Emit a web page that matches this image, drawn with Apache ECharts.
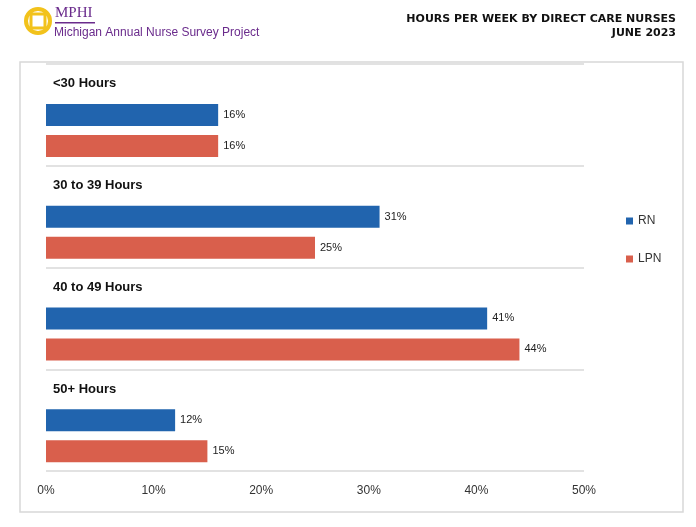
<!DOCTYPE html>
<html><head><meta charset="utf-8">
<script src="https://cdn.jsdelivr.net/npm/echarts@6/dist/echarts.min.js"></script>
<style>body{margin:0;background:#fff}#c{width:696px;height:527px}</style>
</head><body><div id="c"></div>
<script>
var groups = ['<30 Hours', '30 to 39 Hours', '40 to 49 Hours', '50+ Hours'];
var rnValues = [16, 31, 41, 12];
var lpnValues = [16, 25, 44, 15];
var xTicks = [0, 10, 20, 30, 40, 50];

var chart = echarts.init(document.getElementById('c'));
var lbl = {show: true, position: 'right', fontSize: 11, color: '#222', fontFamily: 'Arial', formatter: '{c}%'};
chart.setOption({
    animation: false,
    graphic: [
        {type: 'rect', shape: {x: 20, y: 62, width: 663, height: 450}, style: {fill: 'none', stroke: '#d8d8d8', lineWidth: 1.5}},
        {type: 'circle', shape: {cx: 38, cy: 21, r: 12}, style: {fill: 'none', stroke: '#f2c21b', lineWidth: 4}},
        {type: 'rect', shape: {x: 31, y: 14, width: 14, height: 14}, style: {fill: 'none', stroke: '#f2c21b', lineWidth: 3}},
        {type: 'text', left: 55, top: 6, style: {text: 'MPHI', font: '15px "Liberation Serif"', fill: '#6a2b8c'}},
        {type: 'rect', shape: {x: 55, y: 22, width: 40, height: 1.5}, style: {fill: '#6a2b8c'}},
        {type: 'text', left: 54, top: 27, style: {text: 'Michigan Annual Nurse Survey Project', font: '12px "Liberation Sans Narrow", Arial', fill: '#6a2b8c'}},
        {type: 'text', right: 20, top: 14, style: {text: 'HOURS PER WEEK BY DIRECT CARE NURSES', font: 'bold 11px Verdana, "DejaVu Sans"', fill: '#111', align: 'right'}},
        {type: 'text', right: 20, top: 28, style: {text: 'JUNE 2023', font: 'bold 11px Verdana, "DejaVu Sans"', fill: '#111', align: 'right'}}
    ],
    legend: {
        orient: 'vertical', left: 621, top: 210, itemGap: 26, itemWidth: 7, itemHeight: 7,
        icon: 'rect', data: ['RN', 'LPN'],
        textStyle: {fontSize: 12, color: '#333', fontFamily: 'Arial'}
    },
    grid: {left: 46, right: 112, top: 64, bottom: 56},
    xAxis: {
        type: 'value', min: 0, max: 50, interval: 10,
        axisLine: {show: false}, axisTick: {show: false}, splitLine: {show: false},
        axisLabel: {formatter: function (v) { return xTicks.indexOf(v) >= 0 ? v + '%' : ''; }, color: '#333', fontSize: 12, fontFamily: 'Arial', margin: 14}
    },
    yAxis: {
        type: 'category', inverse: true, data: groups,
        axisLine: {show: false}, axisTick: {show: false}, axisLabel: {show: false},
        splitLine: {show: true, lineStyle: {color: '#d9d9d9', width: 1.5}}
    },
    series: [
        {name: 'group', type: 'bar', barWidth: 22, barGap: '41%', data: groups.map(function () { return 0; }),
         itemStyle: {color: 'transparent'},
         label: {show: true, position: 'insideLeft', offset: [2, 0], formatter: function (p) { return groups[p.dataIndex]; }, fontSize: 13, fontWeight: 'bold', color: '#111', fontFamily: 'Arial'}},
        {name: 'RN', type: 'bar', barWidth: 22, data: rnValues, itemStyle: {color: '#2164ae'}, label: lbl},
        {name: 'LPN', type: 'bar', barWidth: 22, data: lpnValues, itemStyle: {color: '#d95f4c'}, label: lbl}
    ]
});
</script></body></html>
